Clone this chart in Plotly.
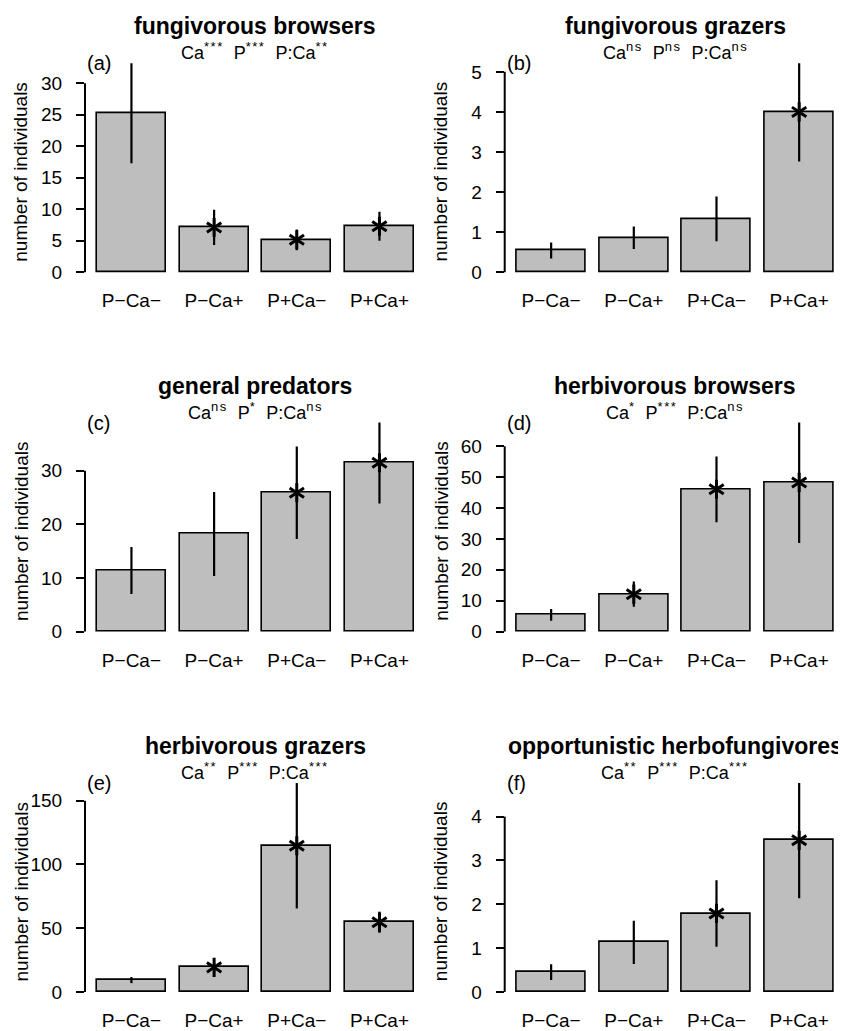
import plotly.graph_objects as go

# ---------------- data ----------------
categories = ["P\u2212Ca\u2212", "P\u2212Ca+", "P+Ca\u2212", "P+Ca+"]

titles = ["fungivorous browsers", "fungivorous grazers", "general predators",
          "herbivorous browsers", "herbivorous grazers", "opportunistic herbofungivores"]
letters = ["(a)", "(b)", "(c)", "(d)", "(e)", "(f)"]

stats = [
    ("***", "***", "**"),
    ("ns", "ns", "ns"),
    ("ns", "*", "ns"),
    ("*", "***", "ns"),
    ("**", "***", "***"),
    ("**", "***", "***"),
]

mean_fung_browsers = [25.3, 7.1, 5.15, 7.3]
se_fung_browsers = [8.0, 2.8, 1.65, 2.3]
mean_fung_grazers = [0.54, 0.86, 1.33, 4.0]
se_fung_grazers = [0.2, 0.28, 0.56, 1.24]
mean_gen_predators = [11.4, 18.2, 25.9, 31.5]
se_gen_predators = [4.4, 7.85, 8.65, 7.6]
mean_herb_browsers = [5.4, 12.1, 46.1, 48.3]
se_herb_browsers = [1.9, 4.1, 10.65, 19.6]
mean_herb_grazers = [9.3, 19.3, 114.7, 54.7]
se_herb_grazers = [2.4, 4.0, 49.2, 8.3]
mean_opp_herbofung = [0.45, 1.13, 1.79, 3.46]
se_opp_herbofung = [0.18, 0.495, 0.76, 1.32]

# significant difference from control (asterisk on bar)
star_fung_browsers = [False, True, True, True]
star_fung_grazers = [False, False, False, True]
star_gen_predators = [False, False, True, True]
star_herb_browsers = [False, True, True, True]
star_herb_grazers = [False, True, True, True]
star_opp_herbofung = [False, False, True, True]

yticks = [
    [0, 5, 10, 15, 20, 25, 30],
    [0, 1, 2, 3, 4, 5],
    [0, 10, 20, 30],
    [0, 10, 20, 30, 40, 50, 60],
    [0, 50, 100, 150],
    [0, 1, 2, 3, 4],
]
ylims = [31.93, 5.016, 37.5, 65.1, 157.7, 4.585]

means = [mean_fung_browsers, mean_fung_grazers, mean_gen_predators,
         mean_herb_browsers, mean_herb_grazers, mean_opp_herbofung]
ses = [se_fung_browsers, se_fung_grazers, se_gen_predators,
       se_herb_browsers, se_herb_grazers, se_opp_herbofung]
stars = [star_fung_browsers, star_fung_grazers, star_gen_predators,
         star_herb_browsers, star_herb_grazers, star_opp_herbofung]

# ---------------- layout constants ----------------
OFF = 8                      # page body margin
W, H = 846 - OFF, 1031 - OFF
FONT = "Liberation Sans, Arial, Helvetica, sans-serif"
xpos = [0.7 + 1.2 * i for i in range(4)]          # R barplot positions
xrange_ = [0.026, 4.974]
col_left = [85 - OFF, 504.7 - OFF]
plot_w = 340.9
row_top = [61.5 - OFF, 423.0 - OFF, 785.5 - OFF]
plot_h = 218.3


def sup(s):
    return f'<sup><span style="font-size:13px;letter-spacing:1.5px">{s}</span></sup>'


fig = go.Figure()
shapes = []
annotations = []
layout = {}

for i in range(6):
    r, c = divmod(i, 2)
    n = i + 1
    xa = "x" if n == 1 else f"x{n}"
    ya = "y" if n == 1 else f"y{n}"
    x0 = col_left[c] / W
    x1 = min(1.0, (col_left[c] + plot_w) / W)
    y1 = 1 - row_top[r] / H
    y0 = 1 - (row_top[r] + plot_h) / H
    L = ylims[i]

    fig.add_trace(go.Bar(
        x=xpos, y=means[i], width=1.0, xaxis=xa, yaxis=ya,
        marker=dict(color="#BEBEBE", line=dict(color="black", width=1.6)),
        error_y=dict(type="data", array=ses[i], color="black", thickness=2.2, width=0),
        showlegend=False, hoverinfo="skip",
    ))
    sx = [xpos[j] for j in range(4) if stars[i][j]]
    sy = [means[i][j] for j in range(4) if stars[i][j]]
    for sym in ("y-up", "y-down"):
        fig.add_trace(go.Scatter(
            x=sx, y=sy, mode="markers", xaxis=xa, yaxis=ya,
            marker=dict(symbol=sym, size=12, color="black",
                        line=dict(color="black", width=3)),
            showlegend=False, hoverinfo="skip", cliponaxis=False,
        ))

    kx = "xaxis" if n == 1 else f"xaxis{n}"
    ky = "yaxis" if n == 1 else f"yaxis{n}"
    layout[kx] = dict(
        domain=[x0, x1], range=xrange_, anchor=ya,
        tickmode="array", tickvals=xpos, ticktext=categories,
        ticks="", showline=False, showgrid=False, zeroline=False,
        tickfont=dict(family=FONT, size=19, color="black"),
        ticklabelstandoff=7, fixedrange=True,
    )
    layout[ky] = dict(
        domain=[y0, y1], range=[-0.04 * L, 1.04 * L], anchor=xa,
        tickmode="array", tickvals=yticks[i],
        ticktext=[str(v) for v in yticks[i]],
        ticks="outside", ticklen=8, tickwidth=2, tickcolor="black",
        showline=False, showgrid=False, zeroline=False,
        tickfont=dict(family=FONT, size=19, color="black"),
        ticklabelstandoff=10, fixedrange=True,
    )

    dx = "x domain" if n == 1 else f"x{n} domain"
    dy = "y domain" if n == 1 else f"y{n} domain"
    shapes.append(dict(type="line", xref=dx, yref=ya, x0=0, x1=0,
                       y0=yticks[i][0], y1=yticks[i][-1],
                       line=dict(color="black", width=2)))

    annotations.append(dict(
        xref=dx, yref=dy, x=0.5, y=1, yshift=37, showarrow=False,
        xanchor="center", yanchor="middle",
        text=f"<b>{titles[i]}</b>",
        font=dict(family=FONT, size=23, color="black")))
    s1, s2, s3 = stats[i]
    sp = "\u00a0\u00a0"
    annotations.append(dict(
        xref=dx, yref=dy, x=0.5, y=1, yshift=12, showarrow=False,
        xanchor="center", yanchor="middle",
        text=f"Ca{sup(s1)}{sp}P{sup(s2)}{sp}P:Ca{sup(s3)}",
        font=dict(family=FONT, size=18, color="black")))
    annotations.append(dict(
        xref=dx, yref=dy, x=0, y=1, showarrow=False,
        xanchor="left", yanchor="middle", text=letters[i],
        font=dict(family=FONT, size=20, color="black")))
    annotations.append(dict(
        xref=dx, yref=dy, x=0, xshift=-64, y=0.5, showarrow=False,
        xanchor="center", yanchor="middle", textangle=-90,
        text="number of individuals",
        font=dict(family=FONT, size=19, color="black")))

fig.update_layout(
    width=W, height=H, margin=dict(l=0, r=0, t=0, b=0),
    paper_bgcolor="white", plot_bgcolor="white",
    shapes=shapes, annotations=annotations, bargap=0,
    font=dict(family=FONT, size=18, color="black"),
    **layout,
)

fig.write_html("out.html")
